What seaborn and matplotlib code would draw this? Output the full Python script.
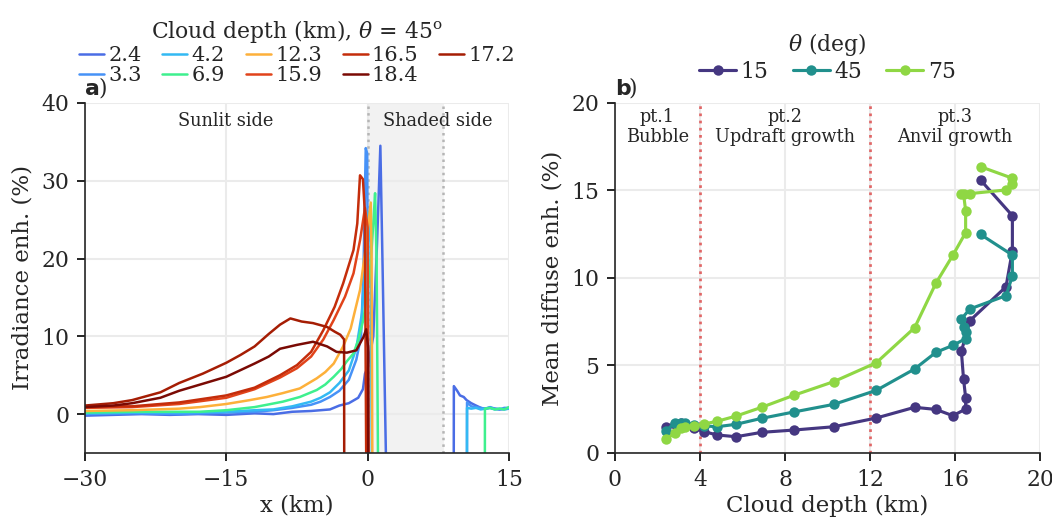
import pandas as pd
import seaborn as sns
import matplotlib.pyplot as plt

sns.set_style("ticks")
plt.rcParams['font.family'] = ['DejaVu Serif']
plt.rcParams['mathtext.fontset'] = 'dejavuserif'
plt.rcParams['font.size'] = 10

# ---- panel a: irradiance enhancement along x, theta = 45 deg ----
depth_labels = ['2.4', '3.3', '4.2', '6.9', '12.3', '15.9', '16.5', '17.2', '18.4']
depth_colors = ['#4a6de5', '#4792f7', '#33b9f3', '#3ef08e', '#fdb03a',
                '#e1431a', '#c42d0b', '#a51d04', '#7a0a04']

x_24 = [-30, -27, -24, -21, -18, -15, -12, -10, -8, -6, -5, -4, -3, -2, -1, -0.5, -0.28,
        0.0, 0.6, 1.0, 1.35, 1.6, 1.95, 2.0, 9.05, 9.15, 9.5, 9.8, 10.2, 10.5, 11.0, 11.5,
        12.2, 13.0, 14.0, 15.0]
y_24 = [-0.2, -0.1, 0.0, -0.1, 0.0, -0.1, 0.1, 0.0, 0.3, 0.4, 0.5, 0.6, 1.1, 1.4, 2.1, 3.2, 5.2,
        6.0, 10.0, 22.0, 34.5, 18.0, -6, -100, -100, 3.6, 3.0, 2.4, 2.2, 1.8, 1.4, 1.1,
        0.7, 0.8, 0.6, 0.7]

x_33 = [-30, -25, -20, -15, -12, -10, -8, -6, -5, -4, -3, -2, -1.2, -0.7, -0.45, -0.2, -0.05,
        0.1, 0.15, 10.45, 10.55, 11.0, 11.5, 12.0, 12.5, 13.0, 13.5, 14.0, 14.5, 15.0]
y_33 = [0.0, 0.1, 0.0, 0.2, 0.3, 0.5, 0.8, 1.2, 1.6, 2.2, 3.0, 4.4, 7.0, 10.0, 18.0, 34.2, 33.5,
        -6, -100, -100, 1.5, 1.0, 0.9, 0.8, 0.7, 0.9, 0.7, 0.6, 0.8, 0.8]

x_42 = [-30, -25, -20, -15, -12, -10, -8, -6, -5, -4, -3, -2, -1.2, -0.6, -0.2, 0.1, 0.3,
        0.45, 0.5, 10.45, 10.55, 11.0, 11.5, 12.0, 12.5, 13.0, 13.5, 14.0, 14.5, 15.0]
y_42 = [0.1, 0.2, 0.2, 0.3, 0.5, 0.6, 1.0, 1.6, 2.1, 2.8, 4.0, 5.6, 8.5, 13.0, 20.0, 26.0, 22.0,
        -6, -100, -100, 0.8, 0.7, 0.8, 0.6, 0.7, 0.8, 0.6, 0.7, 0.6, 0.7]

x_69 = [-30, -25, -20, -17.8, -15, -12, -10.7, -9, -7.2, -5.4, -4.5, -3.6, -2.8, -2.2, -1.5,
        -1.0, -0.46, 0.25, 0.6, 0.79, 0.95, 1.1, 1.15, 12.35, 12.45, 13.0, 13.5, 14.0, 14.5, 15.0]
y_69 = [0.2, 0.3, 0.3, 0.3, 0.5, 0.9, 1.2, 1.6, 2.2, 3.1, 3.8, 4.8, 5.8, 6.8, 7.8,
        9.5, 12.1, 18.1, 24.5, 28.4, 20.0, -6, -100, -100, 0.7, 0.8, 0.6, 0.7, 0.6, 0.9]

x_123 = [-30, -25, -20, -17.8, -15, -12.5, -10.7, -9, -7.2, -5.4, -4.5, -3.6, -2.6, -1.8,
         -1.16, -0.8, -0.1, 0.33, 0.42, 0.5, 0.55]
y_123 = [0.4, 0.5, 0.7, 0.9, 1.3, 1.8, 2.2, 2.7, 3.3, 4.6, 5.4, 6.5, 8.7, 11.0,
         14.2, 16.0, 22.4, 27.2, 20.0, -6, -100]

x_159 = [-30, -25, -20, -15, -12, -9.3, -7.5, -6, -4.7, -3.6, -2.4, -1.5, -0.8, -0.28,
         0.0, 0.1, 0.15]
y_159 = [0.8, 0.9, 1.3, 2.1, 3.2, 4.7, 5.9, 7.4, 9.6, 12.1, 15.1, 18.1, 22.4, 26.5,
         24.0, -6, -100]

x_165 = [-30, -25, -20, -15, -12, -9.3, -7.5, -6, -4.7, -3.5, -2.6, -1.5, -1.1, -0.81,
         -0.5, -0.3, -0.15, -0.1]
y_165 = [1.0, 1.0, 1.5, 2.4, 3.4, 5.0, 6.3, 8.0, 10.8, 13.8, 16.8, 21.1, 24.5, 30.7,
         30.2, 26.0, -6, -100]

x_172 = [-30, -27, -25, -22, -20, -17.5, -15, -13.5, -12, -10.5, -9.3, -8.2, -7, -5.8,
         -4.3, -3.5, -2.9, -2.5, -2.4]
y_172 = [1.1, 1.4, 1.8, 2.8, 4.0, 5.2, 6.6, 7.6, 8.7, 10.3, 11.5, 12.3, 11.9, 11.7,
         11.2, 10.6, 10.2, 9.6, -100]

x_184 = [-30, -27, -25, -22, -20, -17.5, -15, -12, -10.5, -9.3, -7.5, -5.8, -4.3, -3.3,
         -2.2, -1.2, -0.45, -0.15, 0.05, 0.15]
y_184 = [0.9, 1.1, 1.4, 2.1, 3.0, 3.9, 4.8, 6.5, 7.4, 8.4, 8.9, 9.3, 8.7, 8.0,
         7.9, 8.2, 9.9, 10.9, 8.5, -100]

# ---- panel b: mean diffuse enhancement vs cloud depth ----
cloud_depth = [2.4, 2.8, 3.1, 3.3, 3.7, 4.2, 4.8, 5.7, 6.9, 8.4, 10.3, 12.3, 14.1, 15.1,
               15.9, 16.5, 16.5, 16.4, 16.3, 16.7, 18.4, 18.7, 18.7, 17.2]
diff_15 = [1.47, 1.65, 1.7, 1.65, 1.41, 1.22, 1.03, 0.93, 1.18, 1.31, 1.5, 2.0, 2.61, 2.49,
           2.13, 2.51, 3.16, 4.25, 5.81, 7.56, 9.5, 11.56, 13.56, 15.6]
diff_45 = [1.28, 1.7, 1.73, 1.72, 1.6, 1.55, 1.5, 1.64, 1.98, 2.34, 2.78, 3.58, 4.8, 5.75,
           6.15, 6.53, 6.91, 7.18, 7.66, 8.23, 8.99, 10.11, 11.31, 12.49]
diff_75 = [0.8, 1.12, 1.41, 1.5, 1.54, 1.66, 1.81, 2.11, 2.61, 3.29, 4.08, 5.16, 7.16, 9.7,
           11.3, 12.59, 13.85, 14.82, 14.82, 14.82, 15.03, 15.35, 15.7, 16.36]
theta_labels = ['15', '45', '75']
theta_colors = ['#453781', '#21908d', '#8fd744']

# build tables
xs = [x_24, x_33, x_42, x_69, x_123, x_159, x_165, x_172, x_184]
ys = [y_24, y_33, y_42, y_69, y_123, y_159, y_165, y_172, y_184]
df_a = pd.concat([pd.DataFrame({'x': x, 'enh': y, 'depth': lab})
                  for x, y, lab in zip(xs, ys, depth_labels)], ignore_index=True)
df_b = pd.concat([pd.DataFrame({'depth': cloud_depth, 'enh': v, 'theta': t})
                  for v, t in zip([diff_15, diff_45, diff_75], theta_labels)], ignore_index=True)

fig = plt.figure(figsize=(1052 / 150, 518 / 150), dpi=150)
ax1 = fig.add_axes([0.0808, 0.1255, 0.4030, 0.6757])
ax2 = fig.add_axes([0.5846, 0.1255, 0.4040, 0.6757])

# panel a
ax1.axvspan(0, 8, color='#f2f2f2', zorder=0)
for xv in (0, 8):
    ax1.axvline(xv, color='#b5b5b5', ls=':', lw=1.2, zorder=1)
sns.lineplot(data=df_a, x='x', y='enh', hue='depth', hue_order=depth_labels,
             palette=dict(zip(depth_labels, depth_colors)), sort=False, estimator=None,
             lw=1.2, ax=ax1)
ax1.set_xlim(-30, 15)
ax1.set_ylim(-5, 40)
ax1.set_xticks([-30, -15, 0, 15])
ax1.set_xticklabels(['\u221230', '\u221215', '0', '15'])
ax1.set_yticks([0, 10, 20, 30, 40])
ax1.set_xlabel('x (km)', labelpad=2)
ax1.set_ylabel('Irradiance enh. (%)')
ax1.text(-15.1, 38.8, 'Sunlit side', ha='center', va='top', fontsize=8.5)
ax1.text(7.4, 38.8, 'Shaded side', ha='center', va='top', fontsize=8.5)

h, l = ax1.get_legend_handles_labels()
order = [0, 1, 2, 3, 4, 5, 6, 8, 7]
ax1.legend([h[i] for i in order], [l[i] for i in order],
           title=r'Cloud depth (km), $\theta$ = 45$^{\mathrm{o}}$',
           loc='lower center', bbox_to_anchor=(0.5, 1.01), ncol=5, frameon=False,
           handlelength=1.2, handletextpad=0.2, columnspacing=1.0, labelspacing=0.05,
           borderpad=0.2, fontsize=10, title_fontsize=10.5)

# panel b
for xv in (4, 12):
    ax2.axvline(xv, color='#e06666', ls=':', lw=1.3, zorder=1)
sns.lineplot(data=df_b, x='depth', y='enh', hue='theta', hue_order=theta_labels,
             palette=dict(zip(theta_labels, theta_colors)), sort=False, estimator=None,
             marker='o', markersize=5, markeredgewidth=0, lw=1.5, ax=ax2)
ax2.set_xlim(0, 20)
ax2.set_ylim(0, 20)
ax2.set_xticks([0, 4, 8, 12, 16, 20])
ax2.set_yticks([0, 5, 10, 15, 20])
ax2.set_xlabel('Cloud depth (km)', labelpad=2)
ax2.set_ylabel('Mean diffuse enh. (%)')
ax2.text(2, 19.7, 'pt.1\nBubble', ha='center', va='top', fontsize=8.5, linespacing=1.1)
ax2.text(8, 19.7, 'pt.2\nUpdraft growth', ha='center', va='top', fontsize=8.5, linespacing=1.1)
ax2.text(16, 19.7, 'pt.3\nAnvil growth', ha='center', va='top', fontsize=8.5, linespacing=1.1)
ax2.legend(loc='lower center', bbox_to_anchor=(0.5, 1.013), ncol=3,
           frameon=False, handlelength=1.7, handletextpad=0.2, columnspacing=1.1,
           borderpad=0.2, fontsize=10.5)
ax2.text(0.5, 1.166, r'$\theta$ (deg)', transform=ax2.transAxes, ha='center', va='center',
         fontsize=10.5)

for ax, lab in ((ax1, 'a'), (ax2, 'b')):
    ax.grid(True, color='#ebebeb', lw=1.0)
    ax.set_axisbelow(True)
    sns.despine(ax=ax)
    ax.tick_params(direction='out', length=4, color='black', labelsize=10.5)
    ax.xaxis.label.set_size(11)
    ax.yaxis.label.set_size(11)
    ax.text(0.0, 1.01, lab, transform=ax.transAxes, fontweight='bold',
            family='DejaVu Sans', fontsize=10.5, va='bottom', ha='left')
    ax.text(0.032, 1.01, ')', transform=ax.transAxes, fontsize=10.5, va='bottom', ha='left')

fig.savefig('out.png', dpi=150)
